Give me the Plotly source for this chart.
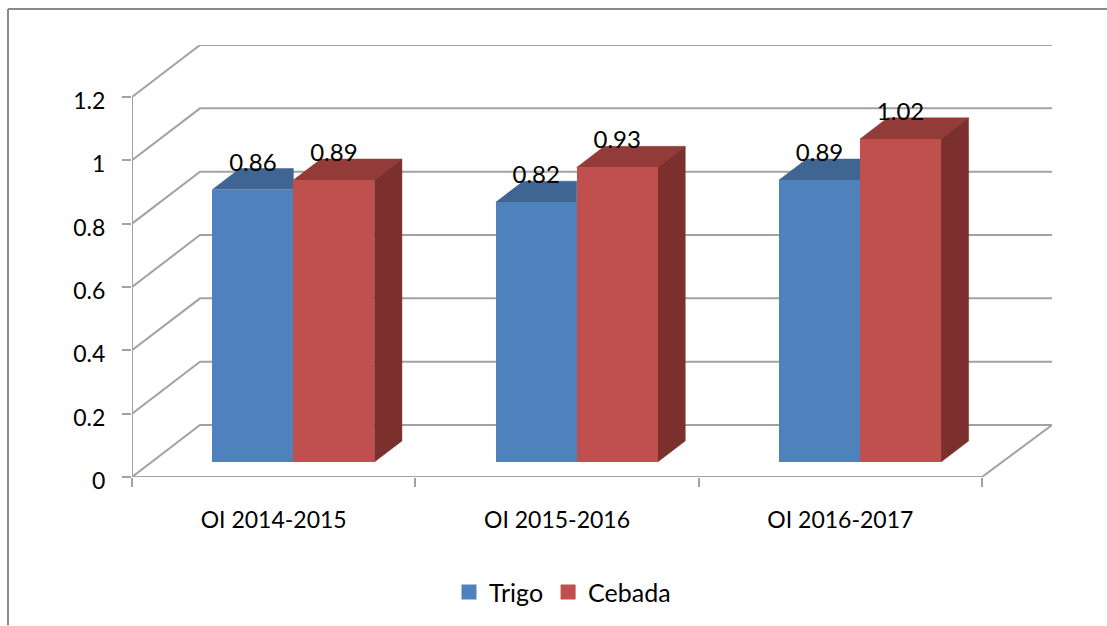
import plotly.graph_objects as go

CATEGORIES = ["OI 2014-2015", "OI 2015-2016", "OI 2016-2017"]
TRIGO = [0.86, 0.82, 0.89]
CEBADA = [0.89, 0.93, 1.02]
Y_TICKS = [0, 0.2, 0.4, 0.6, 0.8, 1, 1.2]
Y_LABELS = ["0", "0.2", "0.4", "0.6", "0.8", "1", "1.2"]
SERIES_NAMES = ["Trigo", "Cebada"]

FONT = "Lato, 'Open Sans', sans-serif"
FS = 23
FS_VALUE = 24
FS_LEGEND = 25
GRID = "#A2A2A2"
FRAME = "#8A8A8A"
BLUE, BLUE_TOP, BLUE_SIDE = "#4F81BD", "#3F6592", "#335A85"
RED, RED_TOP, RED_SIDE = "#C0504D", "#933B39", "#7B302E"

# scale of the oblique projection
W, H = 1107, 626
L, R_PX, T, B_PX = 132, 1052, 45, 477.5
PX_X = (982 - 132) / 3          # px per category
PX_Y = (477.5 - 97) / 1.2       # px per value unit
DEPTH_X = 68 / PX_X             # full depth of the floor, in x units
DEPTH_Y = 52 / PX_Y             # full depth of the floor, in y units
RIGHT_EXTRA = 2 / PX_X          # the back wall runs slightly past the floor's right edge
X_MIN = -0.5
X_MAX = X_MIN + (R_PX - L) / PX_X
Y_MAX = (B_PX - T) / PX_Y
BAR_W = 81 / PX_X
D_FRONT, D_BACK = 0.29, 0.695    # depth of front and back of the bars


def proj(x, v, d):
    return x + d * DEPTH_X, v + d * DEPTH_Y


def poly(points, color):
    xs, ys = zip(*points)
    return go.Scatter(x=list(xs) + [xs[0]], y=list(ys) + [ys[0]], mode="lines", fill="toself",
                      fillcolor=color, line=dict(color=color, width=0.5),
                      hoverinfo="skip", showlegend=False)


def line(xs, ys, width=2):
    return go.Scatter(x=xs, y=ys, mode="lines", line=dict(color=GRID, width=width),
                      hoverinfo="skip", showlegend=False, cliponaxis=False)


fig = go.Figure()

# walls and floor
x_end = X_MIN + len(CATEGORIES)
for t in Y_TICKS:
    bx, by = proj(X_MIN, t, 1)
    ex, _ = proj(x_end, t, 1)
    fig.add_trace(line([X_MIN, bx, ex + RIGHT_EXTRA], [t, by, by]))
fig.add_trace(line([X_MIN, X_MIN], [0, Y_TICKS[-1]]))
fx, fy = proj(x_end, 0, 1)
fig.add_trace(line([X_MIN, x_end, fx + RIGHT_EXTRA], [0, 0, fy]))

# top and side faces of each box, under the front faces
def faces(center_offset, values, top, side, clip_right):
    for i, v in enumerate(values):
        left = i + center_offset - BAR_W / 2
        right = left + BAR_W
        a = proj(left, v, D_FRONT)
        b = proj(right, v, D_FRONT)
        c = proj(right, v, D_BACK)
        d = proj(left, v, D_BACK)
        if clip_right:
            clipped = (b[0], c[1])
            fig.add_trace(poly([a, b, clipped, d], top))
        else:
            fig.add_trace(poly([a, b, c, d], top))
            fig.add_trace(poly([b, proj(right, 0, D_FRONT), proj(right, 0, D_BACK), c], side))


faces(-BAR_W / 2, TRIGO, BLUE_TOP, BLUE_SIDE, True)
faces(BAR_W / 2, CEBADA, RED_TOP, RED_SIDE, False)

# front faces and value labels on an overlaying pair of axes
base_x, base_y = proj(0, 0, D_FRONT)
for name, values, off, col in ((SERIES_NAMES[0], TRIGO, -BAR_W / 2, BLUE), (SERIES_NAMES[1], CEBADA, BAR_W / 2, RED)):
    xs = [i + off + base_x for i in range(len(values))]
    fig.add_trace(go.Bar(x=xs, y=values, base=base_y, width=BAR_W, name=name,
                         marker=dict(color=col, line=dict(width=0)),
                         xaxis="x2", yaxis="y2", showlegend=False))
    fig.add_trace(go.Scatter(x=xs, y=[v + base_y + 25 / PX_Y for v in values],
                             text=[f"{v:.2f}" for v in values], mode="text", textposition="middle center",
                             textfont=dict(family=FONT, size=FS_VALUE, color="#000000"),
                             xaxis="x2", yaxis="y2", showlegend=False, cliponaxis=False, hoverinfo="skip"))
    fig.add_trace(go.Scatter(x=[None], y=[None], name=name, mode="markers",
                             marker=dict(symbol="square", size=15, color=col),
                             xaxis="x2", yaxis="y2"))

px = lambda p: (p - L) / (R_PX - L)
py = lambda p: (B_PX - p) / (B_PX - T)
fig.update_layout(
    width=W, height=H, autosize=False, template=None,
    paper_bgcolor="white", plot_bgcolor="white",
    margin=dict(l=L, r=W - R_PX, t=T, b=H - B_PX, pad=0, autoexpand=False),
    barmode="overlay", bargap=0,
    font=dict(family=FONT, size=FS, color="#000000"),
    xaxis=dict(range=[X_MIN, X_MAX], tickmode="array", tickvals=list(range(len(CATEGORIES))),
               ticktext=CATEGORIES, ticks="", showgrid=False, zeroline=False, showline=False,
               automargin=False, ticklabelstandoff=27,
               minor=dict(tickmode="array", tickvals=[X_MIN + k for k in range(len(CATEGORIES) + 1)],
                          ticks="outside", ticklen=9, tickwidth=2, tickcolor=GRID, showgrid=False)),
    yaxis=dict(range=[0, Y_MAX], tickmode="array", tickvals=Y_TICKS, ticktext=Y_LABELS,
               ticks="outside", ticklen=9, tickwidth=2, tickcolor=GRID, showgrid=False,
               zeroline=False, showline=False, automargin=False, ticklabelstandoff=12, ticklabelshift=4),
    xaxis2=dict(range=[X_MIN, X_MAX], overlaying="x", visible=False, matches=None),
    yaxis2=dict(range=[0, Y_MAX], overlaying="y", visible=False),
    legend=dict(orientation="h", x=px(449), xanchor="left", y=py(593), yanchor="middle",
                font=dict(family=FONT, size=FS_LEGEND, color="#000000"), bgcolor="rgba(0,0,0,0)",
                itemclick=False, itemdoubleclick=False, traceorder="normal"),
    shapes=[
        dict(type="line", xref="paper", yref="paper", x0=px(8), x1=px(8), y0=py(9), y1=py(626),
             line=dict(color=FRAME, width=2)),
        dict(type="line", xref="paper", yref="paper", x0=px(8), x1=px(1107), y0=py(9), y1=py(9),
             line=dict(color=FRAME, width=2)),
    ],
)
fig.write_html("out.html", config={"displayModeBar": False},
               post_script="document.body.style.margin='0';document.body.style.overflow='hidden';")
